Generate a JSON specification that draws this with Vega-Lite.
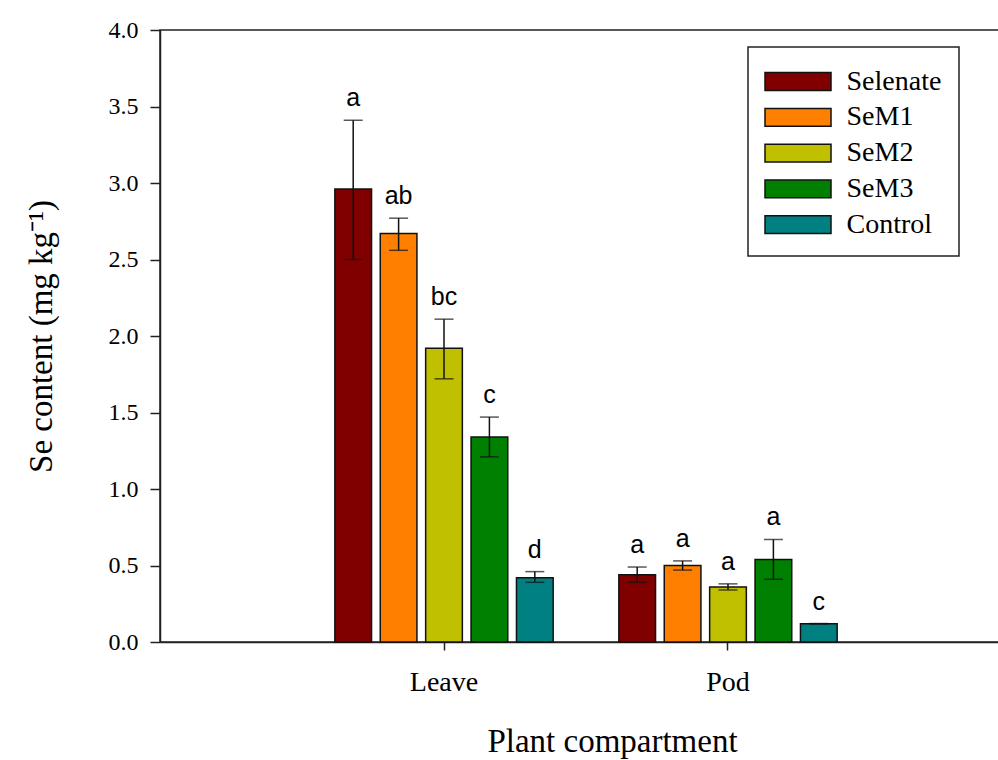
{
  "$schema": "https://vega.github.io/schema/vega-lite/v6.json",
  "width": 852,
  "height": 612,
  "autosize": {"type": "none"},
  "padding": {"left": 160, "top": 30, "right": 0, "bottom": 118},
  "background": "white",
  "config": {
    "view": {"stroke": "#222", "strokeWidth": 1.5},
    "axis": {
      "labelFont": "Liberation Serif",
      "titleFont": "Liberation Serif",
      "labelColor": "#000",
      "titleColor": "#000",
      "titleFontWeight": "normal",
      "domainColor": "#222",
      "domainWidth": 1.5,
      "tickColor": "#222",
      "tickWidth": 1.5,
      "grid": false
    },
    "legend": {
      "labelFont": "Liberation Serif"
    }
  },
  "data": {
    "values": [
      {"compartment": "Leave", "treatment": "Selenate", "value": 2.96, "lo": 2.50, "hi": 3.41, "letter": "a"},
      {"compartment": "Leave", "treatment": "SeM1", "value": 2.67, "lo": 2.56, "hi": 2.77, "letter": "ab"},
      {"compartment": "Leave", "treatment": "SeM2", "value": 1.92, "lo": 1.72, "hi": 2.11, "letter": "bc"},
      {"compartment": "Leave", "treatment": "SeM3", "value": 1.34, "lo": 1.21, "hi": 1.47, "letter": "c"},
      {"compartment": "Leave", "treatment": "Control", "value": 0.42, "lo": 0.39, "hi": 0.46, "letter": "d"},
      {"compartment": "Pod", "treatment": "Selenate", "value": 0.44, "lo": 0.39, "hi": 0.49, "letter": "a"},
      {"compartment": "Pod", "treatment": "SeM1", "value": 0.50, "lo": 0.47, "hi": 0.53, "letter": "a"},
      {"compartment": "Pod", "treatment": "SeM2", "value": 0.36, "lo": 0.34, "hi": 0.38, "letter": "a"},
      {"compartment": "Pod", "treatment": "SeM3", "value": 0.54, "lo": 0.41, "hi": 0.67, "letter": "a"},
      {"compartment": "Pod", "treatment": "Control", "value": 0.12, "lo": 0.12, "hi": 0.12, "letter": "c"}
    ]
  },
  "encoding": {
    "x": {
      "field": "compartment",
      "type": "nominal",
      "sort": ["Leave", "Pod"],
      "scale": {"paddingInner": 0.2313, "paddingOuter": 0.6157},
      "axis": {
        "title": "Plant compartment",
        "titleFontSize": 33,
        "titlePadding": 29,
        "titleX": 452,
        "titleAlign": "center",
        "labelFontSize": 28,
        "labelAngle": 0,
        "labelPadding": 18,
        "tickSize": 8
      }
    },
    "xOffset": {
      "field": "treatment",
      "type": "nominal",
      "sort": ["Selenate", "SeM1", "SeM2", "SeM3", "Control"],
      "scale": {"paddingInner": 0.192, "paddingOuter": 0}
    }
  },
  "layer": [
    {
      "mark": {"type": "bar", "stroke": "#111", "strokeWidth": 1.5},
      "encoding": {
        "y": {
          "field": "value",
          "type": "quantitative",
          "scale": {"domain": [0, 4], "nice": false},
          "axis": {
            "title": "Se content (mg kg\u207B\u00B9)",
            "titleFontSize": 33,
            "titlePadding": 50,
            "labelFontSize": 24,
            "labelPadding": 12,
            "tickSize": 10,
            "values": [0, 0.5, 1, 1.5, 2, 2.5, 3, 3.5, 4],
            "format": ".1f"
          }
        },
        "color": {
          "field": "treatment",
          "type": "nominal",
          "sort": ["Selenate", "SeM1", "SeM2", "SeM3", "Control"],
          "scale": {
            "domain": ["Selenate", "SeM1", "SeM2", "SeM3", "Control"],
            "range": ["#800000", "#ff8000", "#c0c000", "#008000", "#008080"]
          },
          "legend": {
            "title": null,
            "orient": "none",
            "legendX": 588,
            "legendY": 17,
            "padding": 17,
            "fillColor": "white",
            "strokeColor": "#222",
            "symbolType": "M-2,-0.54H2V0.54H-2Z",
            "symbolSize": 1089,
            "symbolOffset": 15.5,
            "symbolStrokeColor": "#111",
            "symbolStrokeWidth": 1.5,
            "symbolOpacity": 1,
            "labelFontSize": 28,
            "labelColor": "#000",
            "labelOffset": 31,
            "labelExpr": "datum.label + '\u2002'",
            "rowPadding": 3.8,
            "encode": {"legend": {"update": {"strokeWidth": {"value": 1.5}}}}
          }
        }
      }
    },
    {
      "mark": {"type": "rule", "color": "#111", "strokeWidth": 1.5},
      "encoding": {
        "y": {"field": "lo", "type": "quantitative"},
        "y2": {"field": "hi"}
      }
    },
    {
      "mark": {"type": "tick", "color": "#111", "thickness": 1.5, "size": 19},
      "encoding": {
        "y": {"field": "lo", "type": "quantitative"}
      }
    },
    {
      "mark": {"type": "tick", "color": "#111", "thickness": 1.5, "size": 19},
      "encoding": {
        "y": {"field": "hi", "type": "quantitative"}
      }
    },
    {
      "mark": {"type": "text", "font": "Liberation Sans", "fontSize": 25, "color": "#000", "baseline": "alphabetic", "dy": -14},
      "encoding": {
        "y": {"field": "hi", "type": "quantitative"},
        "text": {"field": "letter"}
      }
    }
  ]
}
